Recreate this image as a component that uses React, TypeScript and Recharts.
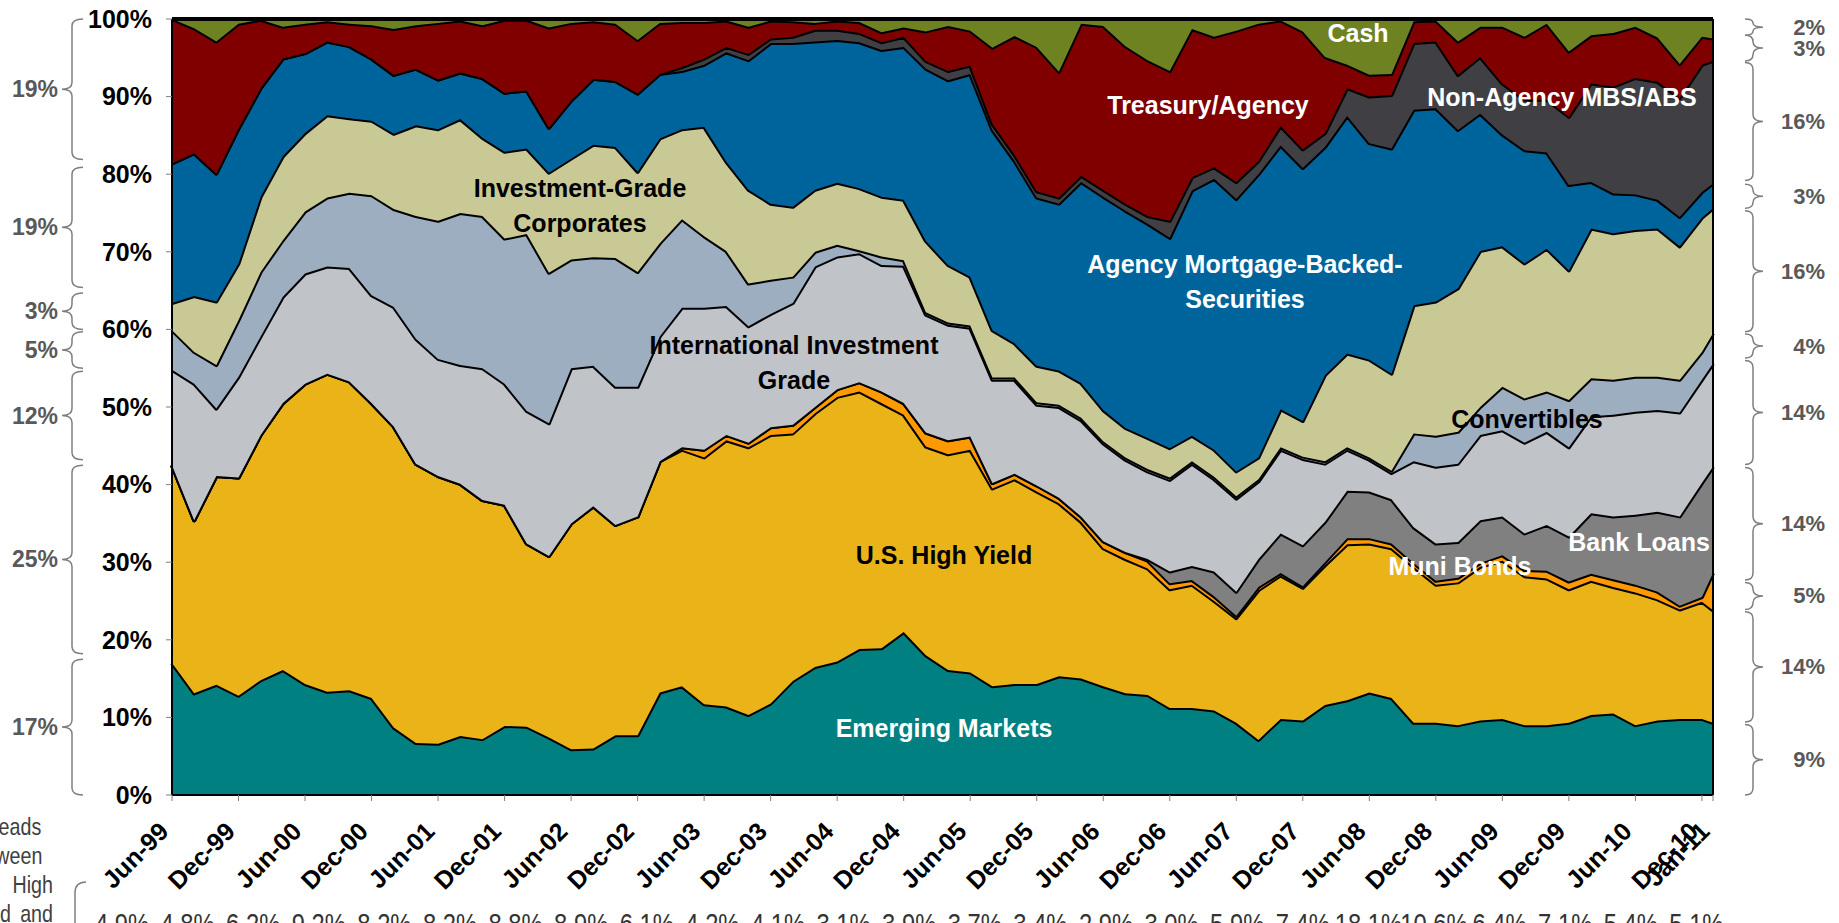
import React from "react";
import { AreaChart, Area, XAxis, YAxis, ReferenceLine } from "recharts";

// page geometry of the reference
const W = 1839;
const H = 923;
const PLOT_LEFT = 172;
const PLOT_RIGHT = 1713;
const PLOT_TOP = 19;
const PLOT_BOTTOM = 795;
const Y_AXIS_W = 80;
const X_AXIS_H = 100;

// months since Jun-99 (sampled every second month, plus Jan-11)
const months = [
  0, 2, 4, 6, 8, 10, 12, 14, 16, 18, 20, 22, 24, 26, 28, 30, 32, 34, 36, 38,
  40, 42, 44, 46, 48, 50, 52, 54, 56, 58, 60, 62, 64, 66, 68, 70, 72, 74, 76, 78,
  80, 82, 84, 86, 88, 90, 92, 94, 96, 98, 100, 102, 104, 106, 108, 110, 112, 114, 116, 118,
  120, 122, 124, 126, 128, 130, 132, 134, 136, 138, 139,
];

// % of assets by sector
const emergingMarkets = [
  17.0, 13.1, 14.2, 12.8, 14.8, 16.1, 14.3, 13.3, 13.5, 12.5,
  8.7, 6.7, 6.6, 7.6, 7.2, 8.9, 8.8, 7.4, 5.9, 6.0,
  7.7, 7.7, 13.2, 14.0, 11.7, 11.4, 10.3, 11.8, 14.7, 16.5,
  17.2, 18.8, 18.9, 21.0, 18.0, 16.1, 15.8, 14.0, 14.3, 14.3,
  15.3, 15.0, 14.0, 13.1, 12.9, 11.2, 11.2, 10.9, 9.3, 7.1,
  9.8, 9.6, 11.6, 12.2, 13.2, 12.5, 9.3, 9.3, 9.0, 9.6,
  9.8, 9.0, 9.0, 9.3, 10.3, 10.5, 9.0, 9.6, 9.8, 9.8,
  9.3,
];
const highYield = [
  25.5, 22.3, 26.9, 28.1, 31.6, 34.4, 38.7, 41.0, 39.8, 38.0,
  38.8, 36.0, 34.5, 32.5, 30.8, 28.5, 23.6, 23.4, 29.1, 31.2,
  27.1, 28.2, 29.8, 30.5, 31.8, 34.3, 34.5, 34.6, 31.9, 32.7,
  34.1, 33.2, 31.6, 28.0, 26.9, 27.8, 28.7, 25.5, 26.4, 24.8,
  22.3, 20.2, 17.8, 17.3, 16.3, 15.3, 15.9, 14.1, 13.5, 19.3,
  18.5, 17.1, 18.0, 20.1, 19.2, 19.3, 20.1, 17.8, 18.4, 19.8,
  20.4, 19.2, 18.9, 17.2, 17.3, 16.3, 17.1, 15.6, 14.1, 15.1,
  14.5,
];
const muniBonds = [
  0, 0, 0, 0, 0, 0, 0, 0, 0, 0,
  0, 0, 0, 0, 0, 0, 0, 0, 0, 0,
  0, 0, 0, 0.3, 1.0, 0.7, 0.6, 1.0, 1.1, 0.8,
  1.0, 1.2, 1.5, 1.5, 1.8, 1.8, 1.7, 0.7, 0.7, 0.8,
  0.7, 0.7, 0.9, 0.9, 1.0, 0.8, 0.6, 0.6, 0.3, 0.4,
  0.3, 0.2, 0.4, 0.8, 0.7, 0.6, 0.5, 0.5, 0.6, 0.5,
  0.7, 0.8, 1.0, 1.0, 0.9, 1.0, 1.0, 1.0, 0.5, 0.6,
  4.8,
];
const bankLoans = [
  0, 0, 0, 0, 0, 0, 0, 0, 0, 0,
  0, 0, 0, 0, 0, 0, 0, 0, 0, 0,
  0, 0, 0, 0, 0, 0, 0, 0, 0, 0,
  0, 0, 0, 0, 0, 0, 0, 0, 0, 0,
  0, 0, 0, 0, 0.2, 1.5, 1.8, 3.2, 3.1, 3.6,
  5.1, 5.3, 5.2, 6.1, 6.0, 5.7, 4.6, 4.8, 4.6, 5.5,
  5.0, 4.7, 5.9, 5.8, 7.8, 8.1, 9.0, 10.3, 11.5, 14.7,
  13.7,
];
const intlInvestmentGrade = [
  12.3, 17.6, 8.7, 13.0, 12.7, 13.7, 14.2, 13.8, 14.6, 13.9,
  15.4, 16.1, 15.1, 15.3, 17.0, 15.6, 17.1, 17.1, 20.0, 18.1,
  17.8, 16.7, 16.1, 18.0, 18.3, 16.6, 15.0, 14.6, 15.7, 18.1,
  17.1, 16.6, 16.3, 17.7, 15.2, 14.9, 14.0, 13.3, 12.1, 10.4,
  11.7, 12.4, 12.6, 11.9, 11.3, 11.8, 13.2, 11.9, 12.0, 10.0,
  10.8, 11.1, 7.5, 5.3, 4.1, 3.4, 8.5, 9.9, 10.1, 11.0,
  11.1, 11.7, 12.0, 11.5, 12.5, 13.1, 13.3, 13.1, 13.4, 13.3,
  13.3,
];
const convertibles = [
  5.1, 4.1, 5.6, 7.3, 8.3, 7.3, 8.0, 8.9, 9.7, 12.9,
  12.6, 15.8, 17.8, 19.6, 19.6, 18.7, 22.8, 19.4, 14.0, 14.0,
  16.6, 14.8, 12.0, 11.4, 9.2, 7.1, 5.5, 4.4, 3.4, 1.9,
  1.5, 0.4, 1.1, 0.7, 0.3, 0.3, 0.3, 0.3, 0.3, 0.3,
  0.3, 0.3, 0.3, 0.3, 0.3, 0.3, 0.3, 0.3, 0.3, 0.3,
  0.3, 0.3, 0.3, 0.3, 0.3, 0.3, 3.6, 4.0, 4.1, 3.6,
  5.6, 5.7, 5.2, 6.1, 4.9, 4.5, 4.5, 4.3, 4.2, 3.6,
  3.9,
];
const igCorporates = [
  3.5, 7.2, 8.2, 7.3, 9.7, 10.8, 10.1, 10.6, 9.6, 9.6,
  9.7, 11.7, 11.8, 12.1, 10.1, 11.2, 11.0, 12.9, 13.0, 14.5,
  14.3, 12.9, 13.5, 11.6, 14.1, 11.5, 12.1, 9.8, 9.0, 8.0,
  8.0, 8.0, 7.7, 7.8, 9.2, 7.4, 6.3, 6.1, 4.4, 4.7,
  4.4, 4.5, 4.0, 3.8, 4.0, 3.8, 3.3, 3.5, 3.2, 2.8,
  4.9, 4.6, 11.1, 12.1, 12.6, 12.5, 16.5, 17.3, 18.5, 20.1,
  18.1, 17.4, 18.4, 16.7, 19.3, 18.9, 18.9, 19.1, 17.2, 17.3,
  16.1,
];
const agencyMbs = [
  18.0, 18.4, 16.5, 17.4, 14.0, 12.6, 10.3, 9.5, 9.3, 8.0,
  7.6, 7.3, 6.4, 6.0, 7.7, 7.6, 7.5, 5.8, 7.5, 8.5,
  8.5, 10.1, 8.3, 7.5, 8.0, 14.1, 16.7, 20.7, 21.1, 19.1,
  18.4, 18.8, 18.9, 19.7, 22.2, 23.8, 26.1, 25.8, 23.5, 21.7,
  21.5, 25.9, 27.5, 28.0, 27.6, 27.1, 31.6, 34.9, 35.1, 36.5,
  34.0, 32.6, 29.4, 30.6, 27.9, 29.0, 25.2, 24.9, 20.4, 17.7,
  14.4, 14.6, 12.4, 11.0, 6.0, 5.1, 4.6, 3.7, 3.8, 3.3,
  3.2,
];
const nonAgencyMbs = [
  0, 0, 0, 0, 0, 0, 0, 0, 0, 0,
  0, 0, 0, 0, 0, 0, 0, 0, 0, 0,
  0, 0, 0, 0.5, 0.8, 0.7, 0.8, 0.6, 0.8, 1.5,
  1.3, 1.2, 1.0, 1.3, 1.0, 1.2, 1.1, 0.8, 0.8, 0.8,
  0.8, 0.8, 0.9, 0.9, 1.0, 2.2, 1.7, 1.5, 2.2, 1.7,
  2.5, 2.4, 1.8, 3.6, 6.0, 6.9, 8.6, 8.6, 7.1, 7.3,
  6.6, 6.5, 6.8, 8.8, 12.7, 13.8, 15.0, 15.2, 15.3, 16.4,
  15.8,
];
const treasuryAgency = [
  18.6, 16.1, 17.0, 13.5, 8.8, 4.1, 3.8, 2.6, 2.9, 4.3,
  5.9, 5.6, 7.3, 6.7, 6.8, 9.4, 9.1, 12.9, 10.0, 7.4,
  7.4, 6.9, 6.6, 5.8, 4.7, 3.4, 3.5, 2.3, 2.0, 0.9,
  1.2, 1.4, 1.3, 1.2, 3.8, 5.8, 4.5, 9.8, 15.3, 18.6,
  16.2, 19.6, 21.1, 20.3, 20.1, 19.3, 19.1, 16.8, 19.5, 17.7,
  13.6, 15.2, 9.8, 3.0, 2.8, 2.7, 2.8, 2.7, 4.3, 3.9,
  7.3, 8.1, 9.8, 8.4, 6.2, 6.9, 6.6, 5.7, 4.4, 3.6,
  2.9,
];
const cash = [
  0, 1.2, 2.9, 0.6, 0.1, 1.0, 0.6, 0.3, 0.6, 0.8,
  1.3, 0.8, 0.5, 0.2, 0.8, 0.1, 0.1, 1.1, 0.5, 0.3,
  0.6, 2.7, 0.5, 0.4, 0.4, 0.2, 1.0, 0.2, 0.3, 0.5,
  0.2, 0.4, 1.7, 1.1, 1.6, 0.9, 1.5, 3.7, 2.2, 3.6,
  6.8, 0.6, 0.9, 3.5, 5.3, 6.7, 1.3, 2.3, 1.5, 0.6,
  0.2, 1.6, 4.9, 5.9, 7.2, 7.1, 0.3, 0.2, 2.9, 1.0,
  1.0, 2.3, 0.6, 4.2, 2.1, 1.8, 1.0, 2.4, 5.8, 2.3,
  2.5,
];

const tickMonths = [0, 6, 12, 18, 24, 30, 36, 42, 48, 54, 60, 66, 72, 78, 84, 90, 96, 102, 108, 114, 120, 126, 132, 138, 139];
const tickLabels = [
  "Jun-99", "Dec-99", "Jun-00", "Dec-00", "Jun-01", "Dec-01", "Jun-02", "Dec-02", "Jun-03", "Dec-03",
  "Jun-04", "Dec-04", "Jun-05", "Dec-05", "Jun-06", "Dec-06", "Jun-07", "Dec-07", "Jun-08", "Dec-08",
  "Jun-09", "Dec-09", "Jun-10", "Dec-10", "Jan-11",
];
const yTicks = [0, 0.1, 0.2, 0.3, 0.4, 0.5, 0.6, 0.7, 0.8, 0.9, 1];

// spreads row under the axis
const spreads = [
  "4.9%", "4.8%", "6.2%", "9.2%", "8.2%", "8.2%", "8.8%", "8.9%", "6.1%", "4.2%", "4.1%", "3.1%", "3.9%",
  "3.7%", "3.4%", "2.9%", "3.0%", "5.9%", "7.4%", "18.1%", "10.6%", "6.4%", "7.1%", "5.4%", "5.1%",
];
// justified caption on the left, mostly off the page (first word, last word per line)
const captionLines: [string, string][] = [
  ["Spreads", ""],
  ["between", ""],
  ["the", "High"],
  ["Yield", "and"],
];

// allocation brackets at start (Jun-99) and end (Jan-11): [label, from %, to %]
const startMix: [string, number, number][] = [
  ["19%", 100, 81.9], ["19%", 80.9, 65.4], ["3%", 64.7, 60.0], ["5%", 59.7, 55.0],
  ["12%", 54.6, 43.2], ["25%", 42.5, 18.2], ["17%", 17.5, 0],
];
const endMix: [string, number, number][] = [
  ["2%", 100, 97.9], ["3%", 97.9, 94.6], ["16%", 94.4, 79.2], ["3%", 78.7, 75.6],
  ["16%", 75.3, 59.7], ["4%", 59.4, 56.3], ["14%", 56.0, 42.6], ["14%", 42.2, 27.7],
  ["5%", 27.4, 23.9], ["14%", 23.6, 9.4], ["9%", 9.1, 0],
];

const series = [
  { key: "em", name: "Emerging Markets", color: "#008080", values: emergingMarkets },
  { key: "hy", name: "U.S. High Yield", color: "#EAB317", values: highYield },
  { key: "muni", name: "Muni Bonds", color: "#FF9900", values: muniBonds },
  { key: "bank", name: "Bank Loans", color: "#808080", values: bankLoans },
  { key: "intl", name: "International Investment Grade", color: "#C0C3C8", values: intlInvestmentGrade },
  { key: "conv", name: "Convertibles", color: "#9DAEC1", values: convertibles },
  { key: "igc", name: "Investment-Grade Corporates", color: "#C9C995", values: igCorporates },
  { key: "mbs", name: "Agency Mortgage-Backed-Securities", color: "#00649C", values: agencyMbs },
  { key: "nonag", name: "Non-Agency MBS/ABS", color: "#3F3F44", values: nonAgencyMbs },
  { key: "tsy", name: "Treasury/Agency", color: "#800000", values: treasuryAgency },
  { key: "cash", name: "Cash", color: "#6E8222", values: cash },
];

const rows = months.map((m, i) => {
  const row: Record<string, number> = { m };
  series.forEach((s) => {
    row[s.key] = s.values[i];
  });
  return row;
});

const areaLabels = [
  { lines: ["Investment-Grade", "Corporates"], x: 580, y: 188, color: "#000" },
  { lines: ["International Investment", "Grade"], x: 794, y: 345, color: "#000" },
  { lines: ["Treasury/Agency"], x: 1208, y: 105, color: "#fff" },
  { lines: ["Cash"], x: 1358, y: 33, color: "#fff" },
  { lines: ["Non-Agency MBS/ABS"], x: 1562, y: 97, color: "#fff" },
  { lines: ["Agency Mortgage-Backed-", "Securities"], x: 1245, y: 264, color: "#fff" },
  { lines: ["Convertibles"], x: 1527, y: 419, color: "#000" },
  { lines: ["U.S. High Yield"], x: 944, y: 555, color: "#000" },
  { lines: ["Muni Bonds"], x: 1460, y: 566, color: "#fff" },
  { lines: ["Bank Loans"], x: 1639, y: 542, color: "#fff" },
  { lines: ["Emerging Markets"], x: 944, y: 728, color: "#fff" },
];

const yOf = (p: number) => PLOT_BOTTOM - ((PLOT_BOTTOM - PLOT_TOP) * p) / 100;

function bracePath(from: number, to: number, xEnd: number, xSpine: number, xTip: number) {
  const a = yOf(from);
  const b = yOf(to);
  const mid = (a + b) / 2;
  const r = Math.min(7, (b - a) / 4);
  return `M${xEnd},${a} Q${xSpine},${a} ${xSpine},${a + r} L${xSpine},${mid - r} Q${xSpine},${mid} ${xTip},${mid} Q${xSpine},${mid} ${xSpine},${mid + r} L${xSpine},${b - r} Q${xSpine},${b} ${xEnd},${b}`;
}

function MonthTick({ x, y, payload }: any) {
  const label = tickLabels[tickMonths.indexOf(payload.value)];
  return (
    <g transform={`translate(${x - 2},${y + 30})`}>
      <text textAnchor="end" transform="rotate(-45)" fontSize={25} fontWeight={700} fill="#000">
        {label}
      </text>
    </g>
  );
}

function Overlay() {
  const narrow = (x: number, y: number) => `translate(${x},${y}) scale(0.82,1)`;
  return (
    <svg width={W} height={H} style={{ position: "absolute", left: 0, top: 0, pointerEvents: "none" }}>
      {startMix.map(([label, from, to], i) => (
        <g key={`s${i}`}>
          <path d={bracePath(from, to, 83, 72, 62)} fill="none" stroke="#7f7f7f" strokeWidth={1.5} />
          <text x={58} y={yOf((from + to) / 2)} textAnchor="end" dominantBaseline="central" fontSize={23} fontWeight={700} fill="#595959">
            {label}
          </text>
        </g>
      ))}
      {endMix.map(([label, from, to], i) => (
        <g key={`e${i}`}>
          <path d={bracePath(from, to, 1745, 1753, 1763)} fill="none" stroke="#7f7f7f" strokeWidth={1.5} />
          <text x={1825} y={yOf((from + to) / 2)} textAnchor="end" dominantBaseline="central" fontSize={22} fontWeight={700} fill="#595959">
            {label}
          </text>
        </g>
      ))}
      {areaLabels.map((l, i) =>
        l.lines.map((line, j) => (
          <text key={`l${i}-${j}`} x={l.x} y={l.y + j * 35} textAnchor="middle" dominantBaseline="central" fontSize={25} fontWeight={700} fill={l.color}>
            {line}
          </text>
        ))
      )}
      {captionLines.map(([first, last], i) => (
        <g key={`c${i}`}>
          <text transform={narrow(-32, 835 + i * 29)} fontSize={24} fill="#404040">
            {first}
          </text>
          {last && (
            <text transform={narrow(53, 835 + i * 29)} textAnchor="end" fontSize={24} fill="#404040">
              {last}
            </text>
          )}
        </g>
      ))}
      <path d="M86,882 Q75,882 75,893 L75,923" fill="none" stroke="#7f7f7f" strokeWidth={1.5} />
      {spreads.map((s, i) => (
        <text key={`sp${i}`} transform={narrow(122 + i * 65.6, 934)} textAnchor="middle" fontSize={29} fill="#333">
          {s}
        </text>
      ))}
    </svg>
  );
}

export default function App() {
  return (
    <div
      style={{
        position: "absolute",
        left: 0,
        top: 0,
        width: W,
        height: H,
        overflow: "hidden",
        background: "#fff",
        fontFamily: "Arial, 'Liberation Sans', sans-serif",
      }}
    >
      <AreaChart
        width={W}
        height={H}
        data={rows}
        stackOffset="expand"
        margin={{
          top: PLOT_TOP,
          right: W - PLOT_RIGHT,
          bottom: H - PLOT_BOTTOM - X_AXIS_H,
          left: PLOT_LEFT - Y_AXIS_W,
        }}
      >
        <XAxis
          dataKey="m"
          type="number"
          domain={[0, 139]}
          ticks={tickMonths}
          interval={0}
          height={X_AXIS_H}
          tick={(props: any) => <MonthTick {...props} />}
          tickSize={6}
          tickLine={{ stroke: "#7f7f7f" }}
          axisLine={{ stroke: "#000", strokeWidth: 2 }}
        />
        <YAxis
          type="number"
          domain={[0, 1]}
          ticks={yTicks}
          interval={0}
          width={Y_AXIS_W}
          tickFormatter={(v: number) => `${Math.round(v * 100)}%`}
          tick={{ fill: "#000", fontSize: 25, fontWeight: 700 }}
          tickSize={6}
          tickMargin={14}
          tickLine={{ stroke: "#7f7f7f" }}
          axisLine={{ stroke: "#000", strokeWidth: 2 }}
        />
        {series.map((s) => (
          <Area
            key={s.key}
            type="linear"
            dataKey={s.key}
            name={s.name}
            stackId="1"
            fill={s.color}
            fillOpacity={1}
            stroke="#000"
            strokeWidth={4}
            strokeLinejoin="round"
            dot={false}
            activeDot={false}
            isAnimationActive={false}
          />
        ))}
        <ReferenceLine x={139} stroke="#000" strokeWidth={2} />
      </AreaChart>
      <Overlay />
    </div>
  );
}
